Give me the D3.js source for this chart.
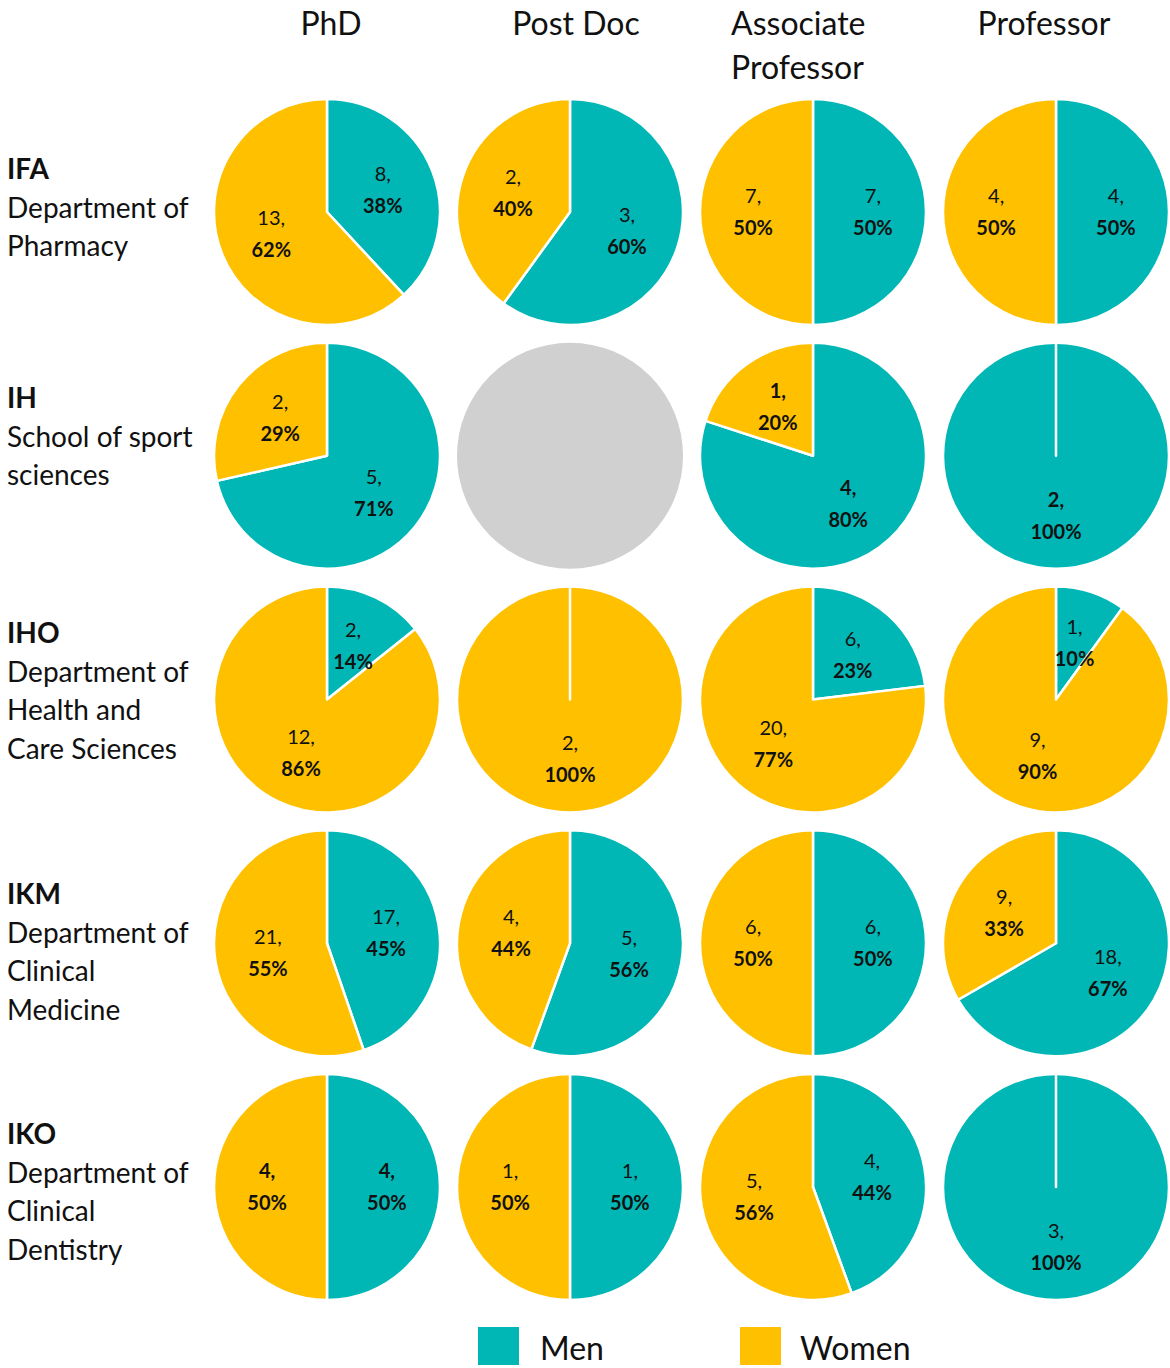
<!DOCTYPE html>
<html>
<head>
<meta charset="utf-8">
<script src="https://cdn.jsdelivr.net/npm/d3@7"></script>
<style>
  body { margin: 0; background: #fff; }
  text { font-family: Lato, "Open Sans", sans-serif; fill: #111; }
</style>
</head>
<body>
<div id="chart-area"></div>
<script>
var width = 1170;
var height = 1368;

var positions = ["PhD", "Post Doc", "Associate Professor", "Professor"];
var depts = ["IFA", "IH", "IHO", "IKM", "IKO"];
var deptNames = [
    ["Department of", "Pharmacy"],
    ["School of sport", "sciences"],
    ["Department of", "Health and", "Care Sciences"],
    ["Department of", "Clinical", "Medicine"],
    ["Department of", "Clinical", "Dentistry"]
];
// null = no data (gray circle)
var men = [
    [8, 3, 7, 4],
    [5, null, 4, 2],
    [2, 0, 6, 1],
    [17, 5, 6, 18],
    [4, 1, 4, 3]
];
var women = [
    [13, 2, 7, 4],
    [2, null, 1, 0],
    [12, 2, 20, 9],
    [21, 4, 6, 9],
    [4, 1, 5, 0]
];
var groups = ["Men", "Women"];

// cells where the count is also bold
var boldCounts = ["IH-Associate Professor", "IH-Professor", "IKO-PhD"];

var color = d3.scaleOrdinal()
    .domain(groups)
    .range(["#00B7B5", "#FFC000"]);

var radius = 113;

var x = d3.scalePoint()
    .domain(positions)
    .range([327, 1056]);

var y = d3.scalePoint()
    .domain(depts)
    .range([212, 1187]);

var svg = d3.select("#chart-area").append("svg")
    .attr("width", width)
    .attr("height", height);

// column headers
var headerX = [331, 576, 731, 1044];
positions.forEach(function(p, i) {
    var lines = p === "Associate Professor" ? ["Associate", "Professor"] : [p];
    lines.forEach(function(l, j) {
        svg.append("text")
            .attr("x", headerX[i])
            .attr("y", 22 + j * 44)
            .attr("text-anchor", p === "Associate Professor" ? "start" : "middle")
            .attr("dominant-baseline", "central")
            .style("font-size", "32px")
            .text(l);
    });
});

// row labels
var labelTop = [168, 397, 632, 893, 1133];
depts.forEach(function(d, i) {
    svg.append("text")
        .attr("x", 7)
        .attr("y", labelTop[i])
        .attr("dominant-baseline", "central")
        .style("font-size", "28px")
        .style("font-weight", "bold")
        .text(d);
    deptNames[i].forEach(function(l, j) {
        svg.append("text")
            .attr("x", 7)
            .attr("y", labelTop[i] + 38.5 * (j + 1))
            .attr("dominant-baseline", "central")
            .style("font-size", "28px")
            .text(l);
    });
});

var pie = d3.pie()
    .sort(null)
    .value(function(d) { return d.value; });

var arc = d3.arc()
    .innerRadius(0)
    .outerRadius(radius);

var labelArc = d3.arc()
    .innerRadius(radius * 1.06)
    .outerRadius(0);

depts.forEach(function(d, i) {
    positions.forEach(function(p, j) {
        var g = svg.append("g")
            .attr("transform", "translate(" + x(p) + "," + y(d) + ")");

        if (men[i][j] === null) {
            g.append("circle")
                .attr("r", radius)
                .attr("fill", "#D0D0D0");
            return;
        }

        var total = men[i][j] + women[i][j];
        var slices = pie([
            { group: "Men", value: men[i][j] },
            { group: "Women", value: women[i][j] }
        ]);

        // zero slices last, so their white edge stays visible
        var drawOrder = slices.slice().sort(function(a, b) {
            return (a.data.value === 0) - (b.data.value === 0);
        });

        g.selectAll("path")
            .data(drawOrder)
            .enter()
            .append("path")
            .attr("d", arc)
            .attr("fill", function(s) { return color(s.data.group); })
            .attr("stroke", "white")
            .attr("stroke-width", 2.5)
            .attr("stroke-linejoin", "round");

        var boldCount = boldCounts.indexOf(d + "-" + p) >= 0;

        var labels = g.selectAll(".lbl")
            .data(slices.filter(function(s) { return s.data.value > 0; }))
            .enter()
            .append("text")
            .attr("class", "lbl")
            .attr("transform", function(s) {
                var c = labelArc.centroid(s);
                if (s.endAngle - s.startAngle > 2 * Math.PI - 0.01) c = [0, radius * 0.53];
                return "translate(" + c[0] + "," + c[1] + ")";
            })
            .attr("text-anchor", "middle")
            .style("font-size", "20px");

        labels.append("tspan")
            .attr("x", 0)
            .attr("y", -9)
            .style("font-weight", boldCount ? "bold" : "normal")
            .text(function(s) { return s.data.value + ","; });

        labels.append("tspan")
            .attr("x", 0)
            .attr("y", 23)
            .style("font-weight", "bold")
            .text(function(s) { return Math.round(s.data.value / total * 100) + "%"; });
    });
});

// legend
var legend = svg.selectAll(".legend")
    .data(groups)
    .enter()
    .append("g")
    .attr("class", "legend")
    .attr("transform", function(d, i) { return "translate(" + (478 + i * 262) + ",1327)"; });

legend.append("rect")
    .attr("width", 41)
    .attr("height", 38)
    .attr("fill", function(d) { return color(d); });

legend.append("text")
    .attr("x", function(d, i) { return i === 0 ? 62 : 60; })
    .attr("y", 20)
    .attr("dominant-baseline", "central")
    .style("font-size", "32px")
    .text(function(d) { return d; });
</script>
</body>
</html>
